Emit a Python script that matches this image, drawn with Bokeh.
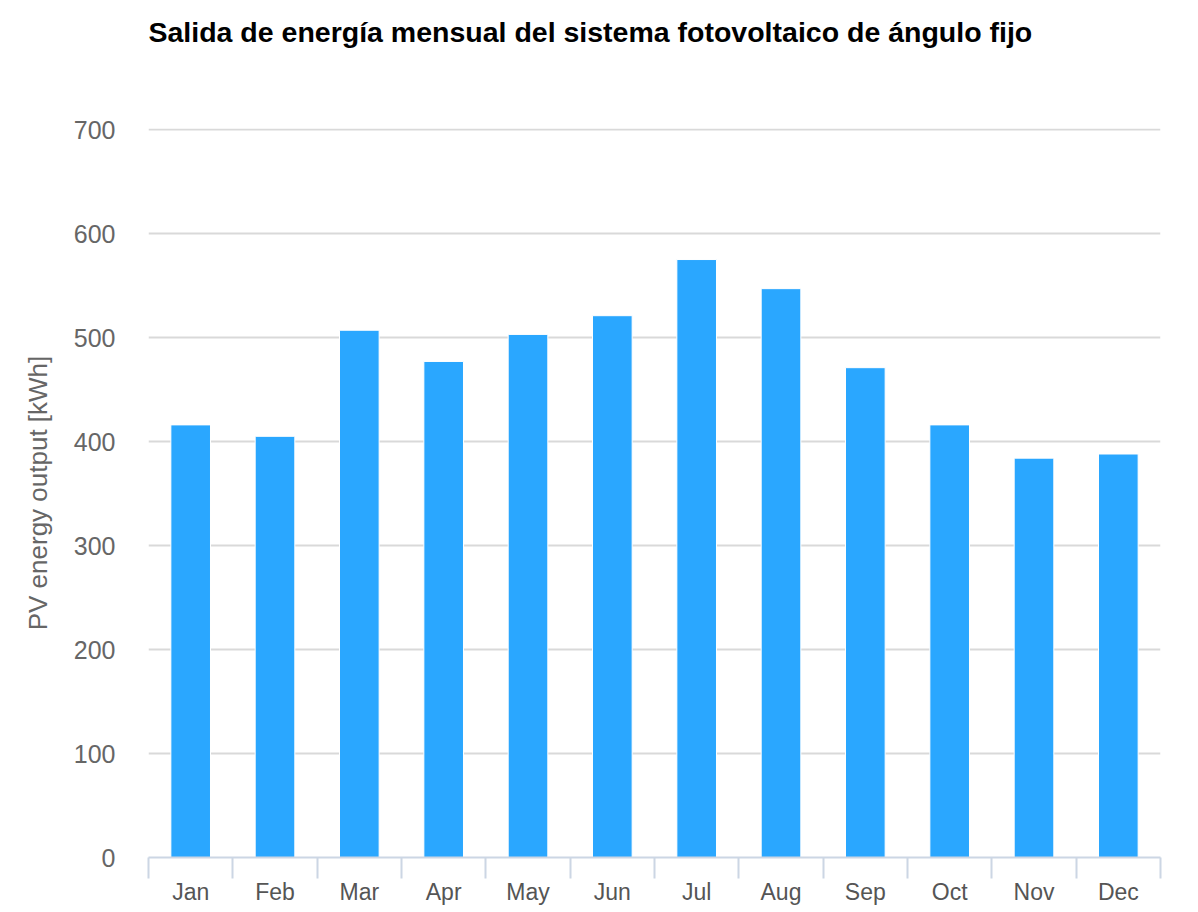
from bokeh.plotting import figure
from bokeh.models import Range1d, FixedTicker, LinearAxis, Title
from bokeh.embed import file_html
from bokeh.resources import INLINE

months = ["Jan", "Feb", "Mar", "Apr", "May", "Jun", "Jul", "Aug", "Sep", "Oct", "Nov", "Dec"]
output_kwh = [416, 405, 507, 477, 503, 521, 575, 547, 471, 416, 384, 388]
y_ticks = [0, 100, 200, 300, 400, 500, 600, 700]

title_text = "Salida de energía mensual del sistema fotovoltaico de ángulo fijo"
y_label = "PV energy output [kWh]"

xs = list(range(len(months)))
bounds = [i - 0.5 for i in range(len(months) + 1)]

FH = 729
p = figure(frame_width=1012, frame_height=FH, output_backend="svg", toolbar_location=None,
           x_range=Range1d(-0.5, len(months) - 0.5), y_range=Range1d(0, 701),
           min_border_left=148, min_border_right=22,
           min_border_top=128, min_border_bottom=40, x_axis_type=None)
p.outline_line_color = None
p.background_fill_color = "white"
p.border_fill_color = "white"

spacer = Title(text=" ", text_font_size="1px", standoff=78, text_color="#ffffff")
p.add_layout(spacer, "above")
main_title = Title(text=title_text, text_font="Liberation Sans", text_font_size="28.5px",
                   text_font_style="bold", text_color="#000000", standoff=0, offset=0)
p.add_layout(main_title, "above")

p.vbar(x=xs, top=output_kwh, width=0.47, bottom=0, fill_color="#2aa7ff",
       line_color="#ffffff", line_width=1)

xaxis = LinearAxis(ticker=FixedTicker(ticks=xs, minor_ticks=bounds))
xaxis.major_label_overrides = {i: m for i, m in enumerate(months)}
xaxis.major_tick_out = 0
xaxis.major_tick_in = 0
xaxis.minor_tick_out = 21
xaxis.minor_tick_in = 0
xaxis.minor_tick_line_color = "#ccd6e4"
xaxis.minor_tick_line_width = 2
xaxis.axis_line_color = "#ccd6e4"
xaxis.axis_line_width = 2
xaxis.major_label_text_font = "Liberation Sans"
xaxis.major_label_text_font_size = "23px"
xaxis.major_label_text_color = "#555555"
xaxis.major_label_standoff = 0
p.add_layout(xaxis, "below")

p.yaxis.ticker = FixedTicker(ticks=y_ticks)
p.yaxis.axis_line_color = None
p.yaxis.major_tick_line_color = None
p.yaxis.minor_tick_line_color = None
p.yaxis.major_label_text_font = "Liberation Sans"
p.yaxis.major_label_text_font_size = "25px"
p.yaxis.major_label_text_color = "#666666"
p.yaxis.major_label_standoff = 27
p.yaxis.axis_label = y_label
p.yaxis.axis_label_text_font = "Liberation Sans"
p.yaxis.axis_label_text_font_size = "26px"
p.yaxis.axis_label_text_font_style = "normal"
p.yaxis.axis_label_text_color = "#666666"
p.yaxis.axis_label_standoff = 18

p.xgrid.visible = False
p.ygrid.ticker = FixedTicker(ticks=y_ticks)
p.ygrid.grid_line_color = "#d9d9d9"
p.ygrid.grid_line_width = 2

open("out.html", "w").write(file_html(p, INLINE))
